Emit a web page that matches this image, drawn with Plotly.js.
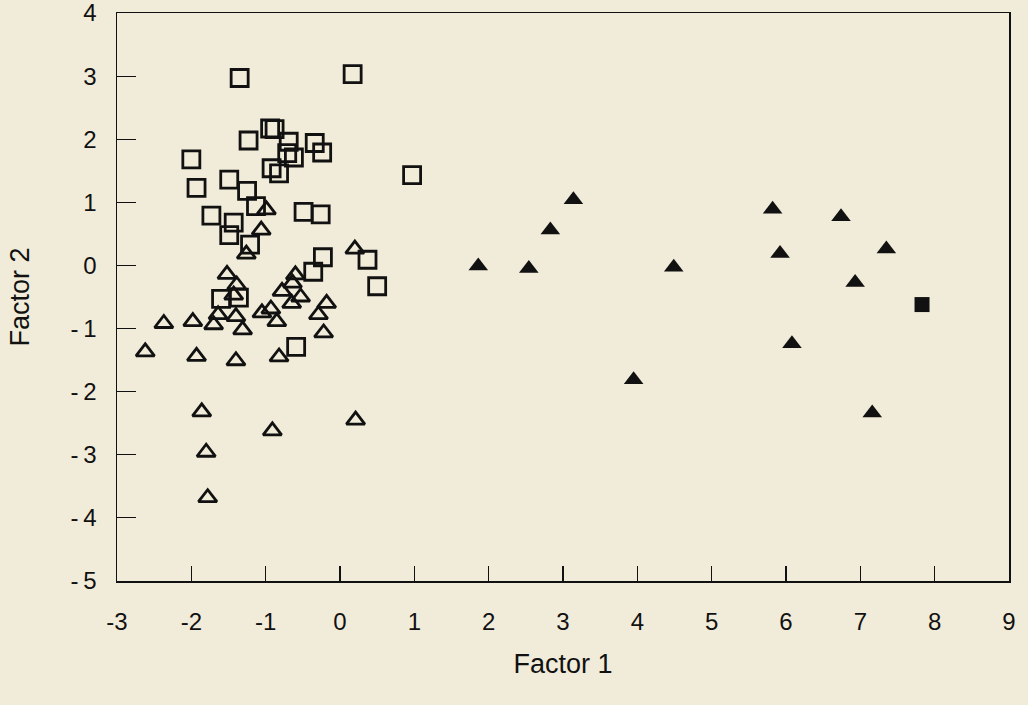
<!DOCTYPE html>
<html>
<head>
<meta charset="utf-8">
<script src="https://cdn.plot.ly/plotly-3.0.1.min.js"></script>
<style>
  html, body { margin: 0; padding: 0; background: #f1ecd9; }
  #chart { width: 1028px; height: 705px; }
</style>
</head>
<body>
<div id="chart"></div>
<script>
// Open squares
const sqX = [-1.35, 0.17, -0.94, -0.88, -1.23, -0.69, -0.34, -0.24, -0.71, -0.62, -0.92, -0.82, -2.00, -1.93, -1.49, -1.25, -1.13, 0.97, -1.73, -1.43, -1.49, -0.49, -0.26, -1.21, -0.23, 0.37, -0.36, 0.50, -1.60, -1.36, -0.59];
const sqY = [2.97, 3.03, 2.17, 2.16, 1.98, 1.96, 1.94, 1.79, 1.78, 1.71, 1.54, 1.46, 1.68, 1.23, 1.36, 1.18, 0.94, 1.43, 0.79, 0.68, 0.48, 0.85, 0.81, 0.33, 0.13, 0.09, -0.10, -0.33, -0.53, -0.51, -1.29];

// Open triangles
const triX = [-0.99, -1.06, -1.26, 0.20, -1.52, -1.39, -1.43, -0.60, -0.64, -0.78, -0.53, -0.65, -0.18, -0.29, -0.22, -1.05, -0.93, -0.85, -1.64, -1.70, -1.40, -1.31, -1.98, -2.37, -2.62, -1.93, -1.40, -0.82, -1.86, -0.91, 0.21, -1.80, -1.78];
const triY = [0.88, 0.56, 0.18, 0.26, -0.14, -0.31, -0.47, -0.15, -0.28, -0.41, -0.50, -0.60, -0.60, -0.78, -1.07, -0.75, -0.69, -0.89, -0.78, -0.94, -0.81, -1.02, -0.89, -0.92, -1.37, -1.44, -1.51, -1.45, -2.32, -2.62, -2.45, -2.96, -3.68];

// Filled triangles
const ftX = [1.86, 2.54, 2.83, 3.14, 3.95, 4.49, 5.82, 5.92, 6.08, 6.74, 6.93, 7.35, 7.16];
const ftY = [-0.01, -0.05, 0.56, 1.04, -1.81, -0.03, 0.89, 0.19, -1.24, 0.77, -0.27, 0.26, -2.34];

// Filled square
const fsX = [7.83];
const fsY = [-0.62];

const xTicks = [-3, -2, -1, 0, 1, 2, 3, 4, 5, 6, 7, 8, 9];
const yTicks = [-5, -4, -3, -2, -1, 0, 1, 2, 3, 4];

const ink = '#111111';
const bg = '#f1ecd9';

const traces = [
  { x: sqX, y: sqY, mode: 'markers', type: 'scatter', name: 'open square',
    marker: { symbol: 'square-open', size: 17, color: ink, line: { width: 2.8, color: ink } } },
  { x: triX, y: triY, mode: 'markers', type: 'scatter', name: 'open triangle',
    marker: { symbol: 'triangle-up-open', size: 16, color: ink, line: { width: 2.8, color: ink } } },
  { x: ftX, y: ftY, mode: 'markers', type: 'scatter', name: 'filled triangle',
    marker: { symbol: 'triangle-up', size: 17, color: ink, line: { width: 0 } } },
  { x: fsX, y: fsY, mode: 'markers', type: 'scatter', name: 'filled square',
    marker: { symbol: 'square', size: 15, color: ink, line: { width: 0 } } }
];

const fontFam = '"Liberation Sans", Arial, Helvetica, sans-serif';

const layout = {
  width: 1028, height: 705,
  paper_bgcolor: bg, plot_bgcolor: bg,
  showlegend: false,
  margin: { l: 117, r: 19, t: 13, b: 124 },
  font: { family: fontFam, size: 24, color: ink },
  xaxis: {
    range: [-3, 9], tickvals: xTicks, ticktext: xTicks.map(String),
    showgrid: false, zeroline: false,
    showline: true, linecolor: ink, linewidth: 1.5, mirror: true,
    ticks: 'inside', ticklen: 15, tickwidth: 1.2, tickcolor: ink,
    ticklabelstandoff: 19, ticklabeloverflow: 'allow',
    tickfont: { family: fontFam, size: 24, color: ink },
    title: { text: 'Factor 1', font: { family: fontFam, size: 27, color: ink }, standoff: 20 }
  },
  yaxis: {
    range: [-5, 4], tickvals: yTicks, ticktext: yTicks.map(v => v < 0 ? '-\u2009' + Math.abs(v) : String(v)),
    showgrid: false, zeroline: false,
    showline: true, linecolor: ink, linewidth: 1.5, mirror: true,
    ticks: 'inside', ticklen: 19, tickwidth: 1.2, tickcolor: ink,
    ticklabelstandoff: 14, ticklabeloverflow: 'allow',
    tickfont: { family: fontFam, size: 24, color: ink },
    title: { text: 'Factor 2', font: { family: fontFam, size: 27, color: ink }, standoff: 33 }
  }
};

Plotly.newPlot('chart', traces, layout, { displayModeBar: false, staticPlot: true });
</script>
</body>
</html>
